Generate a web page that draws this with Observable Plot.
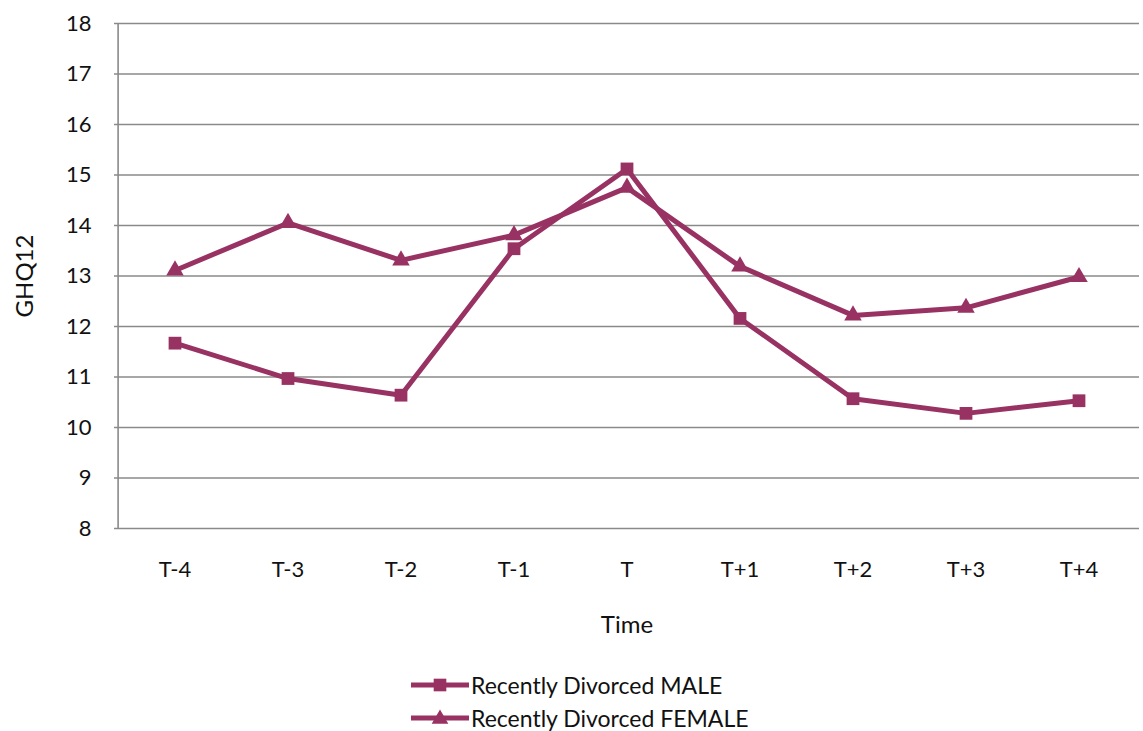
<!DOCTYPE html>
<html>
<head>
<meta charset="utf-8">
<script src="https://cdn.jsdelivr.net/npm/d3@7"></script>
<script src="https://cdn.jsdelivr.net/npm/@observablehq/plot@0.6"></script>
<style>
  html, body { margin: 0; padding: 0; background: #fff; }
  body { width: 1143px; height: 731px; overflow: hidden; font-family: Lato, "Open Sans", sans-serif; }
  #chart svg { display: block; }
  #legend { position: absolute; left: 410px; top: 668px; font-size: 23px; color: #111; }
  .item { display: flex; align-items: center; height: 33px; }
  .item svg { display: block; margin-right: 1px; }
</style>
</head>
<body>
<div id="chart"></div>
<div id="legend"></div>
<script>
// GHQ12 scores around the time of divorce (T)
const periods = ["T-4", "T-3", "T-2", "T-1", "T", "T+1", "T+2", "T+3", "T+4"];
const maleValues = [11.67, 10.97, 10.64, 13.54, 15.12, 12.16, 10.57, 10.28, 10.53];
const femaleValues = [13.11, 14.05, 13.31, 13.81, 14.75, 13.19, 12.22, 12.37, 12.98];
const seriesNames = ["Recently Divorced MALE", "Recently Divorced FEMALE"];
const yTicks = [8, 9, 10, 11, 12, 13, 14, 15, 16, 17, 18];

const color = "#983262";
const rows = [
  ...periods.map((p, i) => ({period: p, value: maleValues[i], series: seriesNames[0]})),
  ...periods.map((p, i) => ({period: p, value: femaleValues[i], series: seriesNames[1]}))
];
const male = rows.filter(d => d.series === seriesNames[0]);
const female = rows.filter(d => d.series === seriesNames[1]);

const chart = Plot.plot({
  width: 1143,
  height: 668,
  marginLeft: 114,
  marginRight: 4,
  marginTop: 23,
  marginBottom: 140,
  style: {fontFamily: "Lato, 'Open Sans', sans-serif", fontSize: "22px", color: "#111", background: "#fff"},
  x: {type: "band", domain: periods, padding: 0},
  y: {domain: [8, 18]},
  marks: [
    Plot.ruleY(yTicks, {stroke: "#8a8a8a", strokeWidth: 1.6}),
    Plot.ruleX([periods[0]], {dx: -56.9, stroke: "#8a8a8a", strokeWidth: 1.6, y1: 8, y2: 18}),
    Plot.axisY({ticks: yTicks, tickSize: 0, tickPadding: 23, fontSize: 22,
      label: "GHQ12", labelAnchor: "center", labelArrow: "none", labelOffset: 99}),
    Plot.axisX({tickSize: 0, tickPadding: 33, fontSize: 22,
      label: "Time", labelAnchor: "center", labelArrow: "none", labelOffset: 104}),
    Plot.line(male, {x: "period", y: "value", stroke: color, strokeWidth: 5}),
    Plot.line(female, {x: "period", y: "value", stroke: color, strokeWidth: 5}),
    Plot.dot(male, {x: "period", y: "value", symbol: "square", r: 7.2, fill: color}),
    Plot.dot(female, {x: "period", y: "value", symbol: "triangle", r: 6.5, fill: color})
  ]
});
document.getElementById("chart").append(chart);

// larger axis titles
chart.querySelectorAll("g[aria-label='y-axis label'] text, g[aria-label='x-axis label'] text")
  .forEach(t => t.setAttribute("font-size", "24px"));

// legend below the plot
const legend = document.getElementById("legend");
const symbols = ["square", "triangle"];
seriesNames.forEach((name, i) => {
  const item = document.createElement("div");
  item.className = "item";
  const sym = d3.symbol(symbols[i] === "square" ? d3.symbolSquare : d3.symbolTriangle, i === 0 ? 160 : 120)();
  item.innerHTML = `<svg width="60" height="20"><line x1="1" x2="59" y1="10" y2="10" stroke="${color}" stroke-width="5"/>` +
    `<path d="${sym}" transform="translate(30,${i === 0 ? 10 : 11})" fill="${color}"/></svg><span>${name}</span>`;
  legend.append(item);
});
</script>
</body>
</html>
